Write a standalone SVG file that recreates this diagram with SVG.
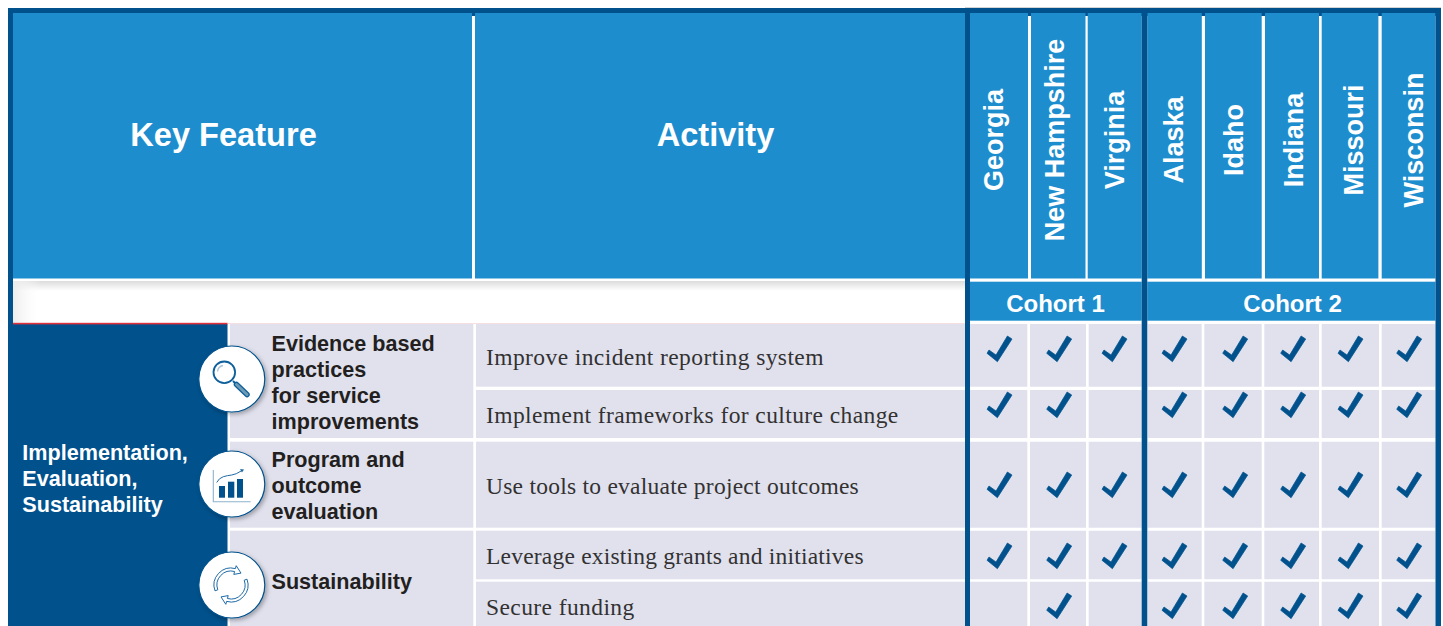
<svg xmlns="http://www.w3.org/2000/svg" width="1443" height="626" viewBox="0 0 1443 626">
<style>
.dark{fill:#00518c}.hd{fill:#1e8dce}.cell{fill:#e0e1ed}
.title{font:bold 32.6px "Liberation Sans",Arial,sans-serif;fill:#fff;text-anchor:middle}
.state{font:bold 27px "Liberation Sans",Arial,sans-serif;fill:#fff;text-anchor:middle}
.cohort{font:bold 24px "Liberation Sans",Arial,sans-serif;fill:#fff;text-anchor:middle}
.kf{font:bold 21.6px "Liberation Sans",Arial,sans-serif;fill:#231f20}
.side{font:bold 21.6px "Liberation Sans",Arial,sans-serif;fill:#fff}
.act{font:23.5px "Liberation Serif","Times New Roman",serif;fill:#333132;letter-spacing:.41px}
.ring{fill:#fff;stroke:#00518c;stroke-width:1.2;filter:url(#sh)}
.cyc{fill:#fff;stroke:#1e6aa5;stroke-width:1}
</style>
<defs>
<polygon id="chk" points="0,17.3 2,14 9,19 20.4,0 25,3 10.4,25.7" fill="#00518c" stroke="#00518c" stroke-width=".7"/>
<filter id="sh" x="-20%" y="-20%" width="150%" height="150%"><feDropShadow dx="2" dy="2" stdDeviation="2" flood-color="#000" flood-opacity=".3"/></filter>
<linearGradient id="bandT" x1="0" y1="0" x2="0" y2="1"><stop offset="0" stop-color="#dcdcdc"/><stop offset="1" stop-color="#fff"/></linearGradient>
<linearGradient id="bandL" x1="0" y1="0" x2="1" y2="0"><stop offset="0" stop-color="#ececec"/><stop offset="1" stop-color="#fff" stop-opacity="0"/></linearGradient>
</defs>
<g id="frame">
<rect x="965" y="7" width="476" height="1" fill="#d4d4d4"/>
<rect class="dark" x="8" y="8" width="1433" height="8"/>
<rect class="dark" x="8" y="8" width="5" height="618"/>
</g>
<g id="header-key-feature"><rect class="hd" x="13" y="13" width="459" height="265.500"/><text class="title" x="223.500" y="146">Key Feature</text></g>
<g id="header-activity"><rect class="hd" x="475" y="13" width="490" height="265.500"/><text class="title" x="715.500" y="146">Activity</text></g>
<g id="band">
<rect x="13" y="281" width="952" height="42" fill="#fff"/>
<rect x="13" y="281" width="952" height="10" fill="url(#bandT)"/>
<rect x="13" y="281" width="28" height="42" fill="url(#bandL)"/>
<rect x="228" y="323" width="737" height="1" fill="#f6dfe3"/>
</g>
<g id="state-headers">
<rect class="hd" x="970" y="13" width="58" height="265.500"/>
<rect class="hd" x="1031" y="13" width="54.500" height="265.500"/>
<rect class="hd" x="1087.700" y="13" width="54" height="265.500"/>
<rect class="hd" x="1147.300" y="13" width="54.500" height="265.500"/>
<rect class="hd" x="1205" y="13" width="56.700" height="265.500"/>
<rect class="hd" x="1265" y="13" width="54" height="265.500"/>
<rect class="hd" x="1321.700" y="13" width="56.700" height="265.500"/>
<rect class="hd" x="1381.700" y="13" width="53.800" height="265.500"/>
<text class="state" transform="translate(1003.300,140) rotate(-90)">Georgia</text>
<text class="state" transform="translate(1064.300,140) rotate(-90)">New Hampshire</text>
<text class="state" transform="translate(1124,140) rotate(-90)">Virginia</text>
<text class="state" transform="translate(1183.300,140) rotate(-90)">Alaska</text>
<text class="state" transform="translate(1243,140) rotate(-90)">Idaho</text>
<text class="state" transform="translate(1303.300,140) rotate(-90)">Indiana</text>
<text class="state" transform="translate(1363,140) rotate(-90)">Missouri</text>
<text class="state" transform="translate(1423.300,140) rotate(-90)">Wisconsin</text>
</g>
<g id="cohort-1"><rect class="hd" x="970" y="281.700" width="171.700" height="39"/><text class="cohort" x="1055.500" y="311.700">Cohort 1</text></g>
<g id="cohort-2"><rect class="hd" x="1147.300" y="281.700" width="288.200" height="39"/><text class="cohort" x="1292.500" y="311.700">Cohort 2</text></g>
<g id="side-panel">
<rect class="dark" x="8" y="324" width="219.500" height="302"/>
<rect x="13" y="322.800" width="214.500" height="1.600" fill="#e0313c"/>
<text class="side" x="22.300" y="460">Implementation,</text>
<text class="side" x="22.300" y="486">Evaluation,</text>
<text class="side" x="22.300" y="512">Sustainability</text>
</g>
<g id="body-cells">
<rect class="cell" x="230" y="324" width="243.300" height="114"/>
<rect class="cell" x="230" y="441.700" width="243.300" height="86"/>
<rect class="cell" x="230" y="530.700" width="243.300" height="95.300"/>
<rect class="cell" x="476" y="324" width="489" height="62.700"/>
<rect class="cell" x="476" y="390" width="489" height="48"/>
<rect class="cell" x="476" y="441.700" width="489" height="86"/>
<rect class="cell" x="476" y="530.700" width="489" height="48.600"/>
<rect class="cell" x="476" y="581.700" width="489" height="44.300"/>
<g id="grid-cells">
<path class="cell" d="M970 324H1027.300V386.700H970ZM1030 324H1086V386.700H1030ZM1088.700 324H1141.700V386.700H1088.700ZM1147.700 324H1201.700V386.700H1147.700ZM1204.300 324H1261.700V386.700H1204.300ZM1264.300 324H1319V386.700H1264.300ZM1321.700 324H1379V386.700H1321.700ZM1381.700 324H1435.500V386.700H1381.700Z"/>
<path class="cell" d="M970 390H1027.300V438H970ZM1030 390H1086V438H1030ZM1088.700 390H1141.700V438H1088.700ZM1147.700 390H1201.700V438H1147.700ZM1204.300 390H1261.700V438H1204.300ZM1264.300 390H1319V438H1264.300ZM1321.700 390H1379V438H1321.700ZM1381.700 390H1435.500V438H1381.700Z"/>
<path class="cell" d="M970 441.700H1027.300V527.700H970ZM1030 441.700H1086V527.700H1030ZM1088.700 441.700H1141.700V527.700H1088.700ZM1147.700 441.700H1201.700V527.700H1147.700ZM1204.300 441.700H1261.700V527.700H1204.300ZM1264.300 441.700H1319V527.700H1264.300ZM1321.700 441.700H1379V527.700H1321.700ZM1381.700 441.700H1435.500V527.700H1381.700Z"/>
<path class="cell" d="M970 530.700H1027.300V579.300H970ZM1030 530.700H1086V579.300H1030ZM1088.700 530.700H1141.700V579.300H1088.700ZM1147.700 530.700H1201.700V579.300H1147.700ZM1204.300 530.700H1261.700V579.300H1204.300ZM1264.300 530.700H1319V579.300H1264.300ZM1321.700 530.700H1379V579.300H1321.700ZM1381.700 530.700H1435.500V579.300H1381.700Z"/>
<path class="cell" d="M970 581.700H1027.300V626H970ZM1030 581.700H1086V626H1030ZM1088.700 581.700H1141.700V626H1088.700ZM1147.700 581.700H1201.700V626H1147.700ZM1204.300 581.700H1261.700V626H1204.300ZM1264.300 581.700H1319V626H1264.300ZM1321.700 581.700H1379V626H1321.700ZM1381.700 581.700H1435.500V626H1381.700Z"/>
</g>
</g>
<g id="dividers">
<rect class="dark" x="965" y="8" width="5" height="618"/>
<rect class="dark" x="1141.700" y="8" width="5.600" height="618"/>
<rect class="dark" x="1435.500" y="8" width="5.500" height="618"/>
</g>
<g id="key-features">
<g id="kf-evidence">
<text class="kf" x="271.500" y="351">Evidence based</text><text class="kf" x="271.500" y="377">practices</text><text class="kf" x="271.500" y="403">for service</text><text class="kf" x="271.500" y="429">improvements</text>
</g>
<g id="kf-program">
<text class="kf" x="271.500" y="467">Program and</text><text class="kf" x="271.500" y="493">outcome</text><text class="kf" x="271.500" y="519">evaluation</text>
</g>
<g id="kf-sustainability"><text class="kf" x="271.500" y="589">Sustainability</text></g>
</g>
<g id="icon-magnifier">
<circle class="ring" cx="231.800" cy="379" r="33"/>
<circle cx="224.300" cy="372.300" r="10.800" fill="#fff" stroke="#0f5f9b" stroke-width="1.800"/>
<path d="M217.500 371.500a7 7 0 0 1 5.500-6" fill="none" stroke="#a9c4d8" stroke-width="1.300"/>
<path d="M233 381L236 384" stroke="#0f5f9b" stroke-width="2"/>
<path d="M236.500 384.500L247 394.500" stroke="#0f5f9b" stroke-width="5.500" stroke-linecap="round"/>
<path d="M236.500 384.500L247 394.500" stroke="#6d9ab5" stroke-width="3" stroke-linecap="round"/>
</g>
<g id="icon-chart">
<circle class="ring" cx="231.800" cy="484" r="33"/>
<path d="M213.300 470V501.700H250.700" fill="none" stroke="#8db2cb" stroke-width="1.100"/>
<rect class="dark" x="219" y="486" width="6" height="11.700"/>
<rect class="dark" x="228" y="481.700" width="6.300" height="16"/>
<rect class="dark" x="237" y="479" width="6" height="18.700"/>
<path d="M216.700 482.500Q219 478 223.300 476.700T231.700 475T242 470.500" fill="none" stroke="#1e6aa5" stroke-width="1"/>
<path d="M240 469L244 469.500L242 472.500Z" fill="#1e6aa5"/>
</g>
<g id="icon-cycle">
<circle class="ring" cx="231.800" cy="585" r="33"/>
<path class="cyc" d="M215 590.800A17 17 0 0 1 235.400 568.600L236.200 565.700L241 573.100L233.800 574.400L234.600 571.500A14 14 0 0 0 217.800 589.800Z"/>
<path class="cyc" transform="rotate(180 231 585)" d="M215 590.800A17 17 0 0 1 235.400 568.600L236.200 565.700L241 573.100L233.800 574.400L234.600 571.500A14 14 0 0 0 217.800 589.800Z"/>
</g>
<g id="activities">
<text class="act" x="486" y="365">Improve incident reporting system</text>
<text class="act" x="486" y="423">Implement frameworks for culture change</text>
<text class="act" x="486" y="494" style="letter-spacing:.25px">Use tools to evaluate project outcomes</text>
<text class="act" x="486" y="564" style="letter-spacing:.21px">Leverage existing grants and initiatives</text>
<text class="act" x="486" y="615">Secure funding</text>
</g>
<g id="checks">
<use href="#chk" x="987" y="336"/><use href="#chk" x="1046.700" y="336"/><use href="#chk" x="1102" y="336"/><use href="#chk" x="1162" y="336"/><use href="#chk" x="1222.700" y="336"/><use href="#chk" x="1280.700" y="336"/><use href="#chk" x="1338" y="336"/><use href="#chk" x="1396.700" y="336"/>
<use href="#chk" x="987" y="392"/><use href="#chk" x="1046.700" y="392"/><use href="#chk" x="1162" y="392"/><use href="#chk" x="1222.700" y="392"/><use href="#chk" x="1280.700" y="392"/><use href="#chk" x="1338" y="392"/><use href="#chk" x="1396.700" y="392"/>
<use href="#chk" x="987" y="472"/><use href="#chk" x="1046.700" y="472"/><use href="#chk" x="1102" y="472"/><use href="#chk" x="1162" y="472"/><use href="#chk" x="1222.700" y="472"/><use href="#chk" x="1280.700" y="472"/><use href="#chk" x="1338" y="472"/><use href="#chk" x="1396.700" y="472"/>
<use href="#chk" x="987" y="543"/><use href="#chk" x="1046.700" y="543"/><use href="#chk" x="1102" y="543"/><use href="#chk" x="1162" y="543"/><use href="#chk" x="1222.700" y="543"/><use href="#chk" x="1280.700" y="543"/><use href="#chk" x="1338" y="543"/><use href="#chk" x="1396.700" y="543"/>
<use href="#chk" x="1046.700" y="593"/><use href="#chk" x="1162" y="593"/><use href="#chk" x="1222.700" y="593"/><use href="#chk" x="1280.700" y="593"/><use href="#chk" x="1338" y="593"/><use href="#chk" x="1396.700" y="593"/>
</g>
</svg>
